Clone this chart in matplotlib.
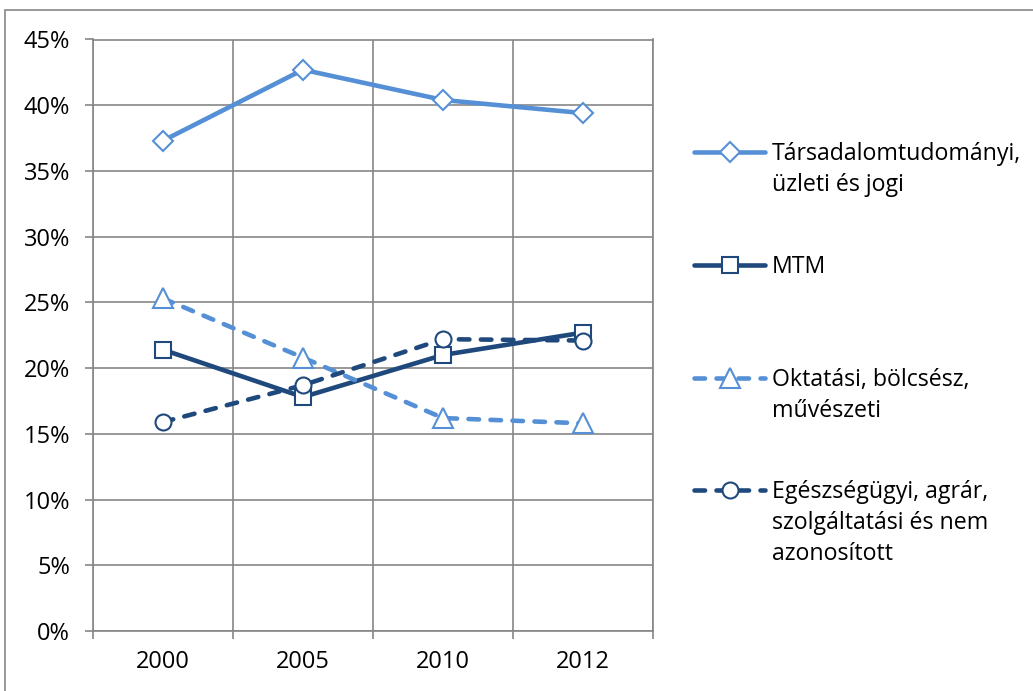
import numpy as np
import matplotlib
matplotlib.use("Agg")
import matplotlib.pyplot as plt
import matplotlib.ticker as ticker
from matplotlib.lines import Line2D
from matplotlib.patches import Rectangle

# Adatok (leolvasva az abrarol)
evek = ['2000', '2005', '2010', '2012']
tarsadalom = [0.373, 0.427, 0.404, 0.394]
mtm = [0.214, 0.178, 0.210, 0.227]
oktatasi = [0.253, 0.208, 0.162, 0.158]
egeszseg = [0.159, 0.187, 0.222, 0.221]

nevek = ['Társadalomtudományi,\nüzleti és jogi',
         'MTM',
         'Oktatási, bölcsész,\nművészeti',
         'Egészségügyi, agrár,\nszolgáltatási és nem\nazonosított']

VILAGOS = '#5590D6'
SOTET = '#1F497D'
SZURKE = '#868686'

plt.rcParams['font.family'] = ['Open Sans', 'DejaVu Sans']

W, H = 1033, 691
fig = plt.figure(figsize=(W / 100, H / 100), dpi=100)
ax = fig.add_axes([93 / W, 1 - 631 / H, 560 / W, (631 - 39.5) / H])

x = np.arange(len(evek))
lw = 3.3
sorozatok = [
    (tarsadalom, VILAGOS, '-', 'D', 10),
    (mtm, SOTET, '-', 's', 11),
    (oktatasi, VILAGOS, (0, (2.3, 2.5)), '^', 14),
    (egeszseg, SOTET, (0, (2.3, 2.5)), 'o', 11.5),
]
for vals, szin, ls, mk, ms in sorozatok:
    ax.plot(x, vals, color=szin, lw=lw, ls=ls, dash_capstyle='round',
            marker=mk, ms=ms, mfc='white', mec=szin, mew=1.5, zorder=3)

# tengelyek
ax.set_xlim(-0.5, 3.5)
ax.set_ylim(0, 0.45)
ax.yaxis.set_major_locator(ticker.MultipleLocator(0.05))
ax.yaxis.set_major_formatter(ticker.FuncFormatter(lambda v, p: f'{v * 100:.0f}%'))
ax.xaxis.set_major_locator(ticker.FixedLocator(np.arange(-0.5, 4, 1)))
ax.xaxis.set_major_formatter(ticker.NullFormatter())
ax.xaxis.set_minor_locator(ticker.FixedLocator(x))
ax.xaxis.set_minor_formatter(ticker.FixedFormatter(evek))
ax.tick_params(axis='x', which='major', length=5.5, width=1.2, color=SZURKE, direction='out')
ax.tick_params(axis='x', which='minor', length=0, pad=14, labelsize=17)
ax.tick_params(axis='y', length=5.5, width=1.2, color=SZURKE, pad=11, labelsize=17)
ax.grid(True, which='major', color=SZURKE, lw=1.2)
ax.set_axisbelow(True)
for s in ax.spines.values():
    s.set_color(SZURKE)
    s.set_linewidth(1.2)

# jelmagyarazat
sor_y = [152, 265, 378, 490]
for (vals, szin, ls, mk, ms), nev, yy in zip(sorozatok, nevek, sor_y):
    fy = 1 - yy / H
    fig.add_artist(Line2D([694 / W, 765 / W], [fy, fy], color=szin, lw=lw, ls=ls,
                          dash_capstyle='round', solid_capstyle='round'))
    fig.add_artist(Line2D([730 / W], [fy], marker=mk, ms=ms, mfc='white',
                          mec=szin, mew=1.5, lw=0))
    for i, sor in enumerate(nev.split('\n')):
        fig.text(772 / W, 1 - (yy + 8 + i * 31) / H, sor, fontsize=16.7,
                 va='baseline', ha='left', color='black')

# keret
fig.add_artist(Rectangle((5 / W, -0.1), 1.2, 1.1 - 10 / H, fill=False,
                         edgecolor=SZURKE, lw=1.2))

fig.savefig('out.png', dpi=100)
